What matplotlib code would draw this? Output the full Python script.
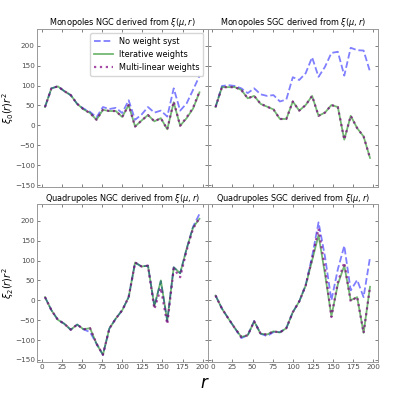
import numpy as np
import matplotlib
matplotlib.use("Agg")
from matplotlib import pyplot as plt

# separation bins
r = np.arange(4, 200, 8)

# monopole NGC
mono_ngc_none = [46, 93, 98, 86, 76, 54, 42, 34, 20, 46, 41, 44, 31, 63, 14, 27, 46, 32, 37, 22, 93, 37, 55, 89, 124]
mono_ngc_iter = [46, 93, 98, 86, 76, 54, 40, 31, 14, 39, 36, 36, 21, 51, -3, 12, 26, 10, 18, -10, 58, -1, 18, 42, 83]
mono_ngc_lin = [46, 93, 98, 86, 76, 54, 40, 31, 14, 39, 36, 36, 21, 51, -3, 12, 26, 10, 18, -10, 60, -1, 20, 44, 85]

# monopole SGC
mono_sgc_none = [46, 99, 101, 99, 93, 81, 93, 78, 74, 76, 60, 65, 121, 114, 131, 171, 122, 147, 182, 185, 125, 195, 189, 188, 135]
mono_sgc_iter = [46, 96, 96, 96, 89, 68, 74, 54, 47, 40, 16, 16, 60, 37, 51, 74, 24, 32, 51, 46, -36, 24, -7, -28, -82]
mono_sgc_lin = [46, 96, 96, 96, 89, 68, 74, 54, 47, 40, 16, 16, 60, 37, 51, 74, 24, 32, 51, 46, -36, 24, -7, -28, -82]

# quadrupole NGC
quad_ngc_none = [8, -25, -49, -59, -74, -61, -73, -80, -109, -137, -71, -46, -25, 8, 95, 85, 87, -15, 48, -52, 83, 68, 129, 185, 217]
quad_ngc_iter = [8, -25, -49, -59, -74, -61, -73, -70, -109, -137, -71, -46, -25, 8, 95, 85, 87, -15, 50, -52, 83, 68, 129, 183, 205]
quad_ngc_lin = [8, -25, -49, -59, -74, -61, -73, -70, -109, -137, -71, -46, -25, 8, 95, 85, 87, -22, 31, -60, 80, 58, 125, 180, 207]

# quadrupole SGC
quad_sgc_none = [12, -21, -46, -70, -95, -88, -52, -84, -90, -80, -80, -70, -30, -3, 38, 110, 196, 110, 0, 78, 137, 25, 51, 8, 108]
quad_sgc_iter = [12, -21, -46, -70, -92, -88, -53, -84, -86, -78, -81, -70, -30, -3, 37, 100, 164, 66, -40, 40, 87, 0, 8, -82, 34]
quad_sgc_lin = [12, -21, -46, -70, -92, -88, -53, -84, -86, -78, -81, -70, -30, -3, 37, 104, 180, 80, -42, 45, 95, -3, 9, -82, 34]

titles = ["Monopoles NGC derived from $\\xi(\\mu,r)$",
          "Monopoles SGC derived from $\\xi(\\mu,r)$",
          "Quadrupoles NGC derived from $\\xi(\\mu,r)$",
          "Quadrupoles SGC derived from $\\xi(\\mu,r)$"]
data = [(mono_ngc_none, mono_ngc_iter, mono_ngc_lin),
        (mono_sgc_none, mono_sgc_iter, mono_sgc_lin),
        (quad_ngc_none, quad_ngc_iter, quad_ngc_lin),
        (quad_sgc_none, quad_sgc_iter, quad_sgc_lin)]

fig, axes = plt.subplots(2, 2, sharex=True, sharey=True, figsize=(3.93, 3.93), dpi=100)
fig.subplots_adjust(left=0.094, right=0.962, top=0.926, bottom=0.079, wspace=0, hspace=0.108)

for ax, title, (none, it, lin) in zip(axes.flat, titles, data):
    ax.plot(r, none, "--", color="b", alpha=0.5, lw=1.3, label="No weight syst")
    ax.plot(r, it, "-", color="green", alpha=0.55, lw=1.3, label="Iterative weights")
    ax.plot(r, lin, ":", color="purple", alpha=0.7, lw=1.6, label="Multi-linear weights")
    ax.set_title(title, fontsize=5.9, pad=2)
    ax.tick_params(direction="in", top=True, right=True, labelsize=5.2, length=2,
                   width=0.5, colors="0.3", pad=1.5)
    for s in ax.spines.values():
        s.set_color("0.6")
        s.set_linewidth(0.7)

ax = axes[0, 0]
ax.set_xlim(-6, 206)
ax.set_ylim(-155, 242)
ax.set_xticks([0, 25, 50, 75, 100, 125, 150, 175, 200])
ax.set_yticks([-150, -100, -50, 0, 50, 100, 150, 200])
ax.legend(loc="upper right", fontsize=5.9, handlelength=2.3, borderpad=0.45,
          labelspacing=0.5, framealpha=0.8, edgecolor="0.8")

axes[0, 0].set_ylabel("$\\xi_0(r)r^2$", fontsize=7)
axes[1, 0].set_ylabel("$\\xi_2(r)r^2$", fontsize=7)
for a in axes[:, 0]:
    a.yaxis.set_label_coords(-0.12, 0.5)
fig.text(0.52, 0.025, "$r$", fontsize=12, ha="center", va="center")

plt.savefig("out.png", dpi=100)
